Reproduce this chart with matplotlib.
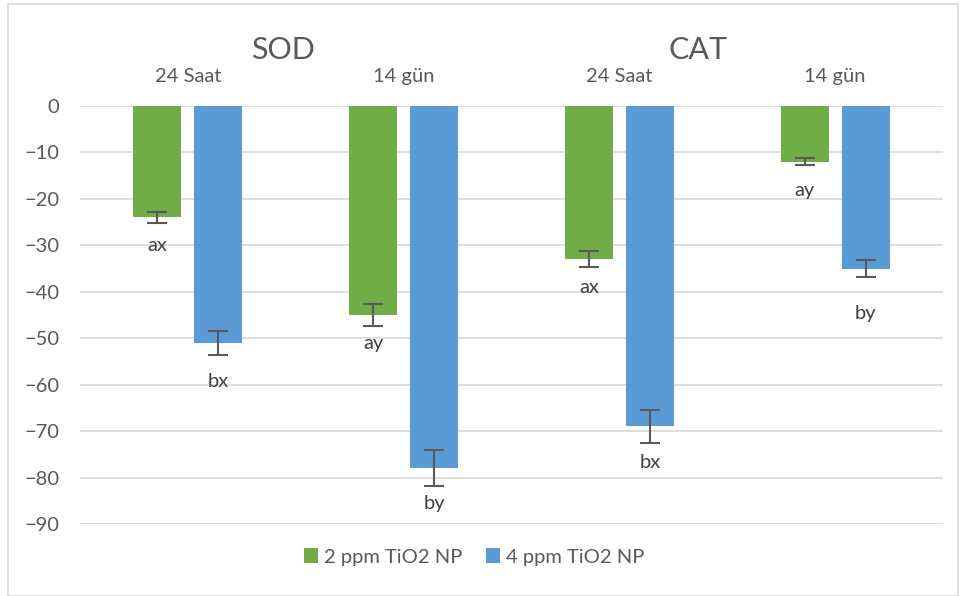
import matplotlib
matplotlib.use("Agg")
import matplotlib.pyplot as plt
import numpy as np

# ---------------------------------------------------------------------------
# Data
# ---------------------------------------------------------------------------

GROUPS = ["24 Saat", "14 gün", "24 Saat", "14 gün"]
ENZYMES = ["SOD", "CAT"]
SERIES = ["2 ppm TiO2 NP", "4 ppm TiO2 NP"]

vals_2ppm = [-24, -45, -33, -12]
vals_4ppm = [-51, -78, -69, -35]
err_2ppm = [1.2, 2.3, 1.7, 0.8]
err_4ppm = [2.6, 3.9, 3.5, 1.8]

letters_2ppm = ["ax", "ay", "ax", "ay"]
letters_4ppm = ["bx", "by", "bx", "by"]
# letter positions (data units)
label_y_2ppm = [-30.1, -51.1, -39.0, -18.1]
label_y_4ppm = [-59.4, -85.5, -76.7, -44.6]

GREEN = "#70AD47"
BLUE = "#5B9BD5"
TEXT = "#595959"
GRID = "#D9D9D9"

plt.rcParams.update({
    "font.family": ["Lato", "DejaVu Sans"],
    "font.size": 14,
    "text.color": TEXT,
})

# ---------------------------------------------------------------------------
# Figure
# ---------------------------------------------------------------------------

fig = plt.figure(figsize=(9.62, 5.96), dpi=100)
ax = fig.add_axes([0.0832, 0.1208, 0.897, 0.7013])

x = np.arange(len(GROUPS))
width = 0.2225
off = 0.1414

ekw = dict(ecolor=TEXT, elinewidth=1.5, capsize=7, capthick=1.5)
ax.bar(x - off, vals_2ppm, width, color=GREEN, label=SERIES[0], zorder=2,
       yerr=err_2ppm, error_kw=ekw)
ax.bar(x + off, vals_4ppm, width, color=BLUE, label=SERIES[1], zorder=2,
       yerr=err_4ppm, error_kw=ekw)

for i in range(len(GROUPS)):
    ax.text(x[i] - off, label_y_2ppm[i], letters_2ppm[i], ha="center",
            va="center", fontsize=14.5, color="#404040")
    ax.text(x[i] + off, label_y_4ppm[i], letters_4ppm[i], ha="center",
            va="center", fontsize=14.5, color="#404040")

ax.set_xlim(-0.5, len(GROUPS) - 0.5)
ax.set_ylim(-90, 0)
ax.set_yticks(np.arange(-90, 1, 10))
ax.yaxis.grid(True, color=GRID, linewidth=1.2, zorder=0)
ax.set_axisbelow(True)
for s in ax.spines.values():
    s.set_visible(False)
ax.tick_params(axis="y", length=0, pad=15, labelsize=14.5, labelcolor=TEXT)

ax.xaxis.tick_top()
ax.set_xticks(x)
ax.set_xticklabels(GROUPS)
ax.tick_params(axis="x", length=0, pad=15, labelsize=14.5, labelcolor=TEXT)

# enzyme headers
fig.text(0.2942, 0.916, ENZYMES[0], ha="center", va="center", fontsize=22, color=TEXT)
fig.text(0.7256, 0.916, ENZYMES[1], ha="center", va="center", fontsize=22, color=TEXT)

fig.legend(loc="center", bbox_to_anchor=(0.493, 0.0654), ncol=2, frameon=False,
           fontsize=14.5, handlelength=0.7, handleheight=0.7, handletextpad=0.3,
           columnspacing=1.2)

# chart border
fig.patches.append(plt.Rectangle((0.008, 0.0), 0.988, 0.993, transform=fig.transFigure,
                                 fill=False, edgecolor=GRID, linewidth=1.2))

fig.savefig("out.png", dpi=100)
